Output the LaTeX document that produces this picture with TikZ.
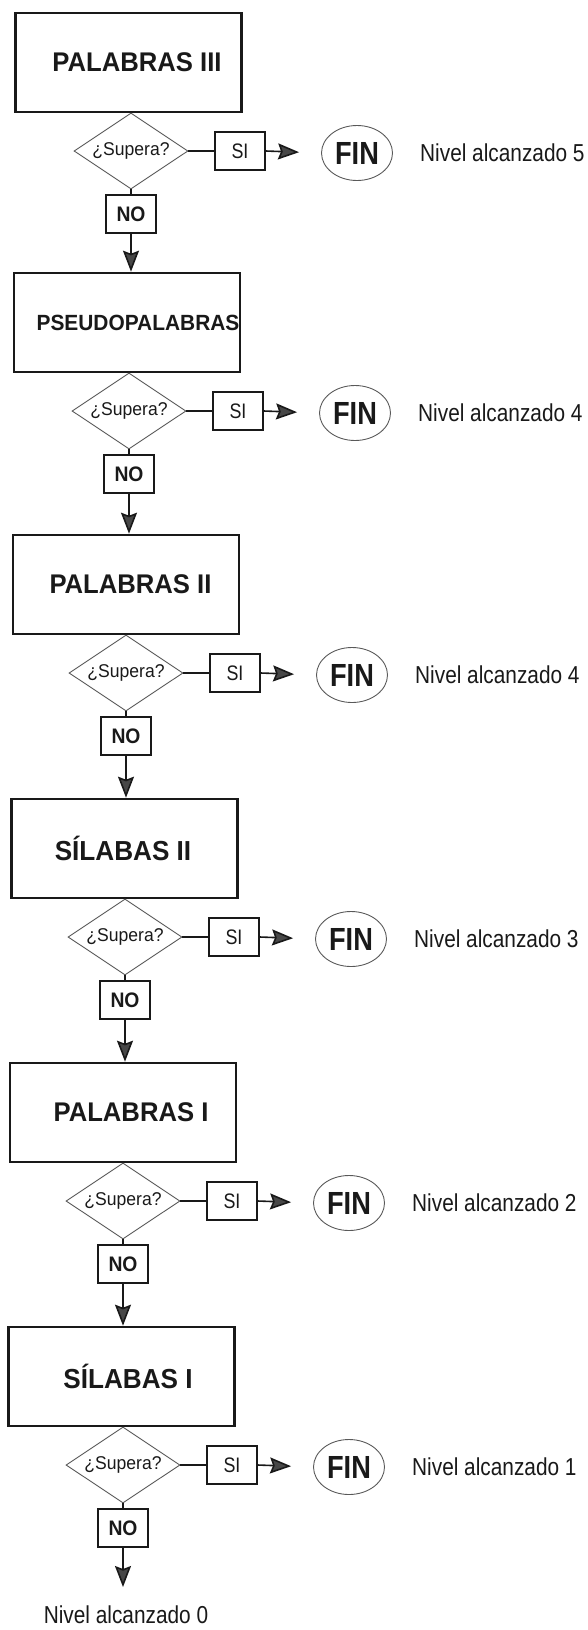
\documentclass[tikz,border=0pt]{standalone}
\usepackage{fontspec}
\setmainfont{Liberation Sans}
\newfontfamily\condA[FakeStretch=0.85]{Liberation Sans}
\newfontfamily\condB[FakeStretch=0.92]{Liberation Sans}
\newfontfamily\condC[FakeStretch=0.95]{Liberation Sans}
\usetikzlibrary{shapes.geometric,arrows.meta}
\definecolor{ink}{gray}{0.1}
\definecolor{soft}{gray}{0.35}
\tikzset{
  mainbox/.style={draw=ink, line width=2.6pt, minimum width=226pt, minimum height=99pt, inner sep=0pt, text=ink},
  decision/.style={diamond, draw=soft, line width=0.9pt, minimum width=114pt, minimum height=76pt, aspect=1.5, inner sep=0pt, text=ink, font=\condC\fontsize{18.5}{20}\selectfont},
  sibox/.style={draw=ink, line width=1.4pt, minimum width=50pt, minimum height=38pt, inner sep=0pt, text=ink, font=\condA\fontsize{21}{22}\selectfont},
  nobox/.style={sibox, font=\condB\fontsize{21}{22}\selectfont\bfseries},
  finnode/.style={ellipse, draw=soft, line width=0.9pt, minimum width=71pt, minimum height=55pt, inner sep=0pt, text=ink, font=\condA\fontsize{32}{32}\selectfont\bfseries},
  lvl/.style={inner sep=0pt, text=ink, font=\condA\fontsize{24.5}{26}\selectfont},
  conn/.style={draw=ink, line width=1.6pt},
  arr/.style={conn, -{Stealth[length=21pt,width=16pt,inset=3pt,fill=black!72]}}
}
\begin{document}
\begin{tikzpicture}[x=1pt,y=-1pt]
\useasboundingbox (0,0) rectangle (587,1630);
\foreach \i/\txt/\bx/\ty/\lx/\dx/\lv/\fs in {
  1/PALABRAS III/128.5/13/131/8.5/5/27,
  2/PSEUDOPALABRAS/127/273/129/11/4/22,
  3/PALABRAS II/126/535/126/4.5/4/27,
  4/SÍLABAS II/124.5/799/125/-1.5/3/27.5,
  5/PALABRAS I/123/1063/123/8/2/27,
  6/SÍLABAS I/121.5/1327/123/6.5/1/27.5}{
  \node[mainbox, font=\condC\fontsize{\fs}{\fs}\selectfont\bfseries] (box\i) at (\bx,\ty+49.5) {\hspace*{\dx pt}\hspace*{\dx pt}\txt};
  \node[decision] (d\i) at (\lx,\ty+138) {¿Supera?};
  \node[sibox] (si\i) at (\lx+109,\ty+138) {SI};
  \node[finnode] (fin\i) at (\lx+226,\ty+140) {FIN};
  \node[lvl, anchor=west] (lv\i) at (\lx+289,\ty+140) {Nivel alcanzado \lv};
  \node[nobox] (no\i) at (\lx,\ty+201) {NO};
  \draw[conn] (d\i.east) -- (si\i.west);
  \draw[arr, shorten >=22pt] (si\i.east) -- (fin\i.west);
  \draw[conn] (d\i.south) -- (no\i.north);
}
\foreach \i/\j in {1/2,2/3,3/4,4/5,5/6}{
  \draw[arr] (no\i.south) -- (no\i.south |- box\j.north);
}
\coordinate (end) at (123,1587);
\draw[arr] (no6.south) -- (no6.south |- end);
\node[lvl] (lv0) at (126,1615) {Nivel alcanzado 0};
\end{tikzpicture}
\end{document}
